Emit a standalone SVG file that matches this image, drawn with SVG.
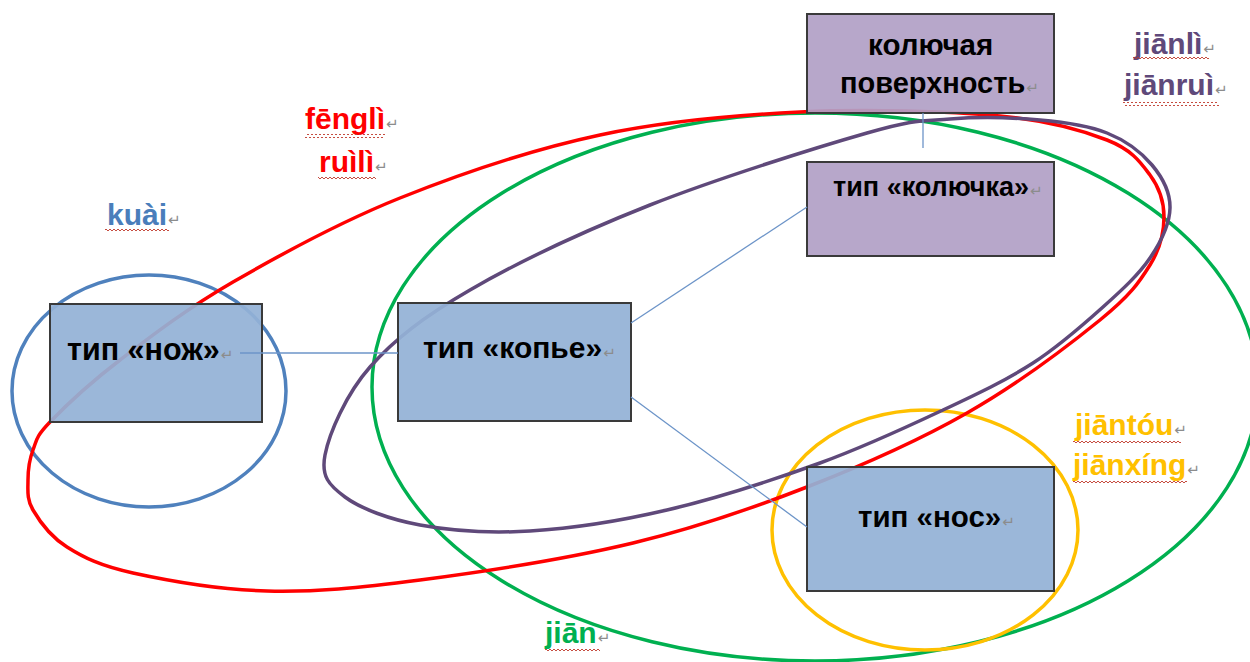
<svg xmlns="http://www.w3.org/2000/svg" width="1250" height="662" viewBox="0 0 1250 662">
<defs>
  <pattern id="squig" patternUnits="userSpaceOnUse" width="4" height="4">
    <polyline points="0,3 2,1 4,3" fill="none" stroke="#C0392B" stroke-width="0.9"/>
  </pattern>
</defs>
<style>
  .ring { fill: none; stroke-width: 3.5; }
  .box-b { fill: #93B1D6; fill-opacity: 0.93; stroke: #3A3A3A; stroke-width: 2; }
  .box-p { fill: #B1A0C6; fill-opacity: 0.93; stroke: #3A3A3A; stroke-width: 2; }
  .lbl { font-family: "Liberation Sans", Arial, sans-serif; font-weight: bold; font-size: 29.5px; fill: #000; }
  .py { font-family: "Liberation Sans", Arial, sans-serif; font-weight: bold; font-size: 30px; }
  .pm { font-family: "DejaVu Sans", sans-serif; font-weight: normal; font-size: 15px; fill: #8C8C8C; }
  .conn { stroke: #6C94C8; stroke-width: 1.3; fill: none; }
  .sq { fill: url(#squig); }
</style>
<rect width="1250" height="662" fill="#FFFFFF"/>

<g id="groupings">
  <ellipse id="ring-kuai" class="ring" stroke="#4F81BD" cx="149" cy="391" rx="137" ry="116"/>
  <ellipse id="ring-jian" class="ring" stroke="#00B050" cx="815" cy="387" rx="443" ry="274"/>
  <ellipse id="ring-jiantou" class="ring" stroke="#FFC000" cx="925" cy="530" rx="153" ry="120"/>
  <path id="ring-fengli" class="ring" stroke="#FF0000" d="M28,480 C28,470 29.3,459.7 33,450 C36.7,440.3 35.5,437 50,422 C64.5,407 89.5,383.3 120,360 C150.5,336.7 186.3,309 233,282 C279.7,255 338.8,222.5 400,198 C461.2,173.5 533.3,149.3 600,135 C666.7,120.7 733.3,115.2 800,112 C866.7,108.8 948.8,111.3 1000,116 C1051.2,120.7 1082,130.2 1107,140 C1132,149.8 1140.5,162.2 1150,175 C1159.5,187.8 1164,202 1164,217 C1164,232 1160.7,247.8 1150,265 C1139.3,282.2 1130.5,295.3 1100,320 C1069.5,344.7 1015.8,385.2 967,413 C918.2,440.8 862.7,465.3 807,487 C751.3,508.7 697.5,527.5 633,543 C568.5,558.5 481,572 420,580 C359,588 314.8,592.2 267,591 C219.2,589.8 166.3,580.3 133,573 C99.7,565.7 83.7,557.5 67,547 C50.3,536.5 39.5,521.2 33,510 C26.5,498.8 28,490 28,480 Z"/>
  <path id="ring-jianli" class="ring" stroke="#5F497A" d="M325,455 C320.8,476.7 329.2,485.3 345,497 C360.8,508.7 389.2,519.3 420,525 C450.8,530.7 488.8,533.5 530,531 C571.2,528.5 618.7,521.3 667,510 C715.3,498.7 774,479.7 820,463 C866,446.3 907.5,426.7 943,410 C978.5,393.3 1006.3,380.2 1033,363 C1059.7,345.8 1083.5,324.5 1103,307 C1122.5,289.5 1138.8,274.5 1150,258 C1161.2,241.5 1169.7,223.5 1170,208 C1170.3,192.5 1162.5,177.5 1152,165 C1141.5,152.5 1125.7,140.5 1107,133 C1088.3,125.5 1066.2,122.3 1040,120 C1013.8,117.7 978.8,116.8 950,119 C921.2,121.2 917,118.7 867,133 C817,147.3 716.2,178.8 650,205 C583.8,231.2 516.7,263 470,290 C423.3,317 394.2,339.5 370,367 C345.8,394.5 329.2,433.3 325,455 Z"/>
</g>

<g id="node-nozh">
  <rect class="box-b" x="50" y="304" width="212" height="118"/>
  <text class="lbl" x="67" y="360" style="font-size:30.5px">тип «нож»<tspan class="pm" dx="1">↵</tspan></text>
</g>
<g id="node-kopye">
  <rect class="box-b" x="398" y="303" width="233" height="118"/>
  <text class="lbl" x="423" y="358" style="font-size:30px">тип «копье»<tspan class="pm" dx="1">↵</tspan></text>
</g>
<g id="node-kolyuchaya">
  <rect class="box-p" x="807" y="14" width="247" height="99"/>
  <text class="lbl" x="868" y="55">колючая</text>
  <text class="lbl" x="840" y="93" style="font-size:29px">поверхность<tspan class="pm" dx="1">↵</tspan></text>
</g>
<g id="node-kolyuchka">
  <rect class="box-p" x="807" y="162" width="247" height="94"/>
  <text class="lbl" x="833" y="196" style="font-size:27px">тип «колючка»<tspan class="pm" dx="1">↵</tspan></text>
</g>
<g id="node-nos">
  <rect class="box-b" x="807" y="467" width="247" height="124"/>
  <text class="lbl" x="858" y="527">тип «нос»<tspan class="pm" dx="1">↵</tspan></text>
</g>

<g id="connectors">
  <line class="conn" x1="240" y1="353" x2="398" y2="353"/>
  <line class="conn" x1="631" y1="323" x2="807" y2="207"/>
  <line class="conn" x1="631" y1="397" x2="807" y2="527"/>
  <line class="conn" x1="923" y1="113" x2="923" y2="148"/>
</g>

<g id="labels">
  <text class="py" x="305" y="129" fill="#FF0000">fēnglì<tspan class="pm" dx="1">↵</tspan></text>
  <rect class="sq" x="305" y="134" width="80" height="4"/>
  <text class="py" x="319" y="172" fill="#FF0000">ruìlì<tspan class="pm" dx="1">↵</tspan></text>
  <rect class="sq" x="318" y="177" width="58" height="4"/>

  <text class="py" x="107" y="225" fill="#4A7EBB">kuài<tspan class="pm" dx="1">↵</tspan></text>
  <rect class="sq" x="105" y="228" width="64" height="4"/>

  <text class="py" x="1134" y="54" fill="#5F497A">jiānlì<tspan class="pm" dx="1">↵</tspan></text>
  <rect class="sq" x="1133" y="57" width="76" height="4"/>
  <text class="py" x="1124" y="95" fill="#5F497A">jiānruì<tspan class="pm" dx="1">↵</tspan></text>
  <rect class="sq" x="1123" y="102" width="96" height="4"/>

  <text class="py" x="1075" y="435" fill="#FFC000">jiāntóu<tspan class="pm" dx="1">↵</tspan></text>
  <rect class="sq" x="1073" y="440" width="108" height="4"/>
  <text class="py" x="1073" y="475" fill="#FFC000">jiānxíng<tspan class="pm" dx="1">↵</tspan></text>
  <rect class="sq" x="1073" y="481" width="114" height="4"/>

  <text class="py" x="545" y="643" fill="#00B050">jiān<tspan class="pm" dx="1">↵</tspan></text>
  <rect class="sq" x="545" y="647" width="55" height="4"/>
</g>
</svg>
